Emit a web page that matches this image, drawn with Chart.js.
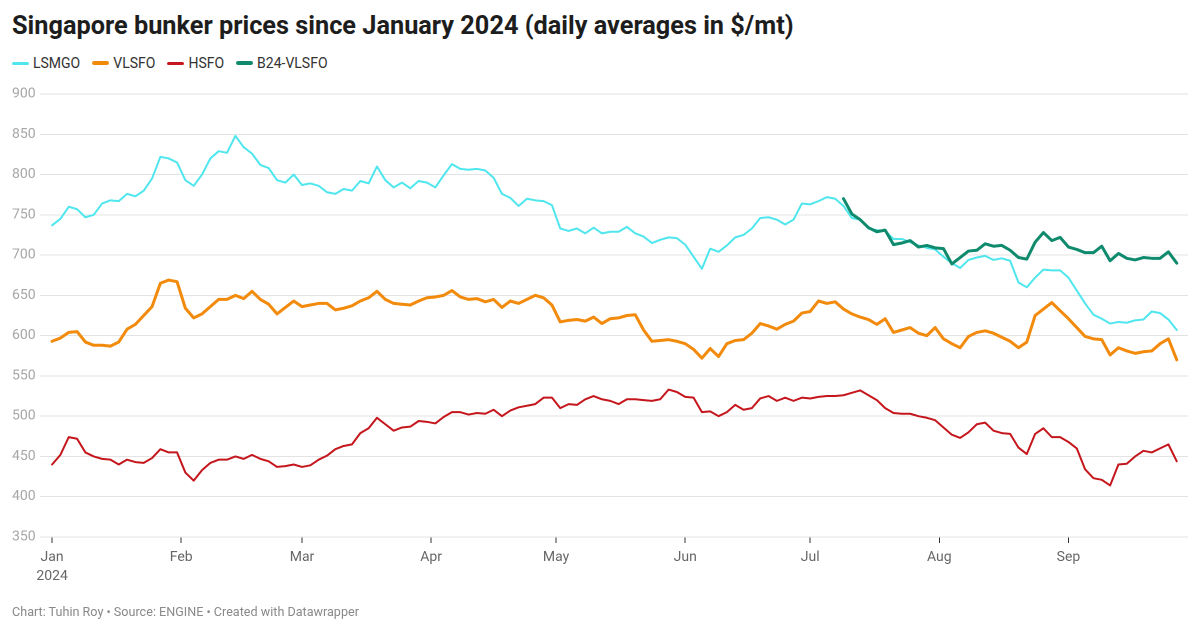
<!DOCTYPE html>
<html>
<head>
<meta charset="utf-8">
<script src="https://cdn.jsdelivr.net/npm/chart.js@4/dist/chart.umd.min.js"></script>
<style>
  html, body { margin: 0; padding: 0; background: #fff; }
  body { width: 1200px; height: 632px; position: relative; overflow: hidden; font-family: Roboto, "Noto Sans", sans-serif; }
  #title { position: absolute; left: 12px; top: 11px; font-size: 25.3px; font-weight: 700; color: #1d1d1d; white-space: nowrap; }
  #legend { position: absolute; left: 12px; top: 55px; font-size: 14px; color: #333; white-space: nowrap; display: flex; align-items: center; }
  .item { display: flex; align-items: center; margin-right: 12px; }
  .mark { width: 17px; border-radius: 2px; margin-right: 4px; }
  #footer { position: absolute; left: 12px; top: 604px; font-size: 12.6px; color: #8a8a8a; white-space: nowrap; }
  #c { position: absolute; left: 0; top: 0; }
</style>
</head>
<body>
<div id="title">Singapore bunker prices since January 2024 (daily averages in $/mt)</div>
<div id="legend"></div>
<canvas id="c" width="1200" height="632"></canvas>
<div id="footer">Chart: Tuhin Roy • Source: ENGINE • Created with Datawrapper</div>
<script>
// ---- Data (every second day) ----
const dates = [
 '2024-01-01','2024-01-03','2024-01-05','2024-01-07','2024-01-09','2024-01-11','2024-01-13','2024-01-15','2024-01-17','2024-01-19','2024-01-21','2024-01-23','2024-01-25','2024-01-27','2024-01-29','2024-01-31',
 '2024-02-02','2024-02-04','2024-02-06','2024-02-08','2024-02-10','2024-02-12','2024-02-14','2024-02-16','2024-02-18','2024-02-20','2024-02-22','2024-02-24','2024-02-26','2024-02-28',
 '2024-03-01','2024-03-03','2024-03-05','2024-03-07','2024-03-09','2024-03-11','2024-03-13','2024-03-15','2024-03-17','2024-03-19','2024-03-21','2024-03-23','2024-03-25','2024-03-27','2024-03-29','2024-03-31',
 '2024-04-02','2024-04-04','2024-04-06','2024-04-08','2024-04-10','2024-04-12','2024-04-14','2024-04-16','2024-04-18','2024-04-20','2024-04-22','2024-04-24','2024-04-26','2024-04-28','2024-04-30',
 '2024-05-02','2024-05-04','2024-05-06','2024-05-08','2024-05-10','2024-05-12','2024-05-14','2024-05-16','2024-05-18','2024-05-20','2024-05-22','2024-05-24','2024-05-26','2024-05-28','2024-05-30',
 '2024-06-01','2024-06-03','2024-06-05','2024-06-07','2024-06-09','2024-06-11','2024-06-13','2024-06-15','2024-06-17','2024-06-19','2024-06-21','2024-06-23','2024-06-25','2024-06-27','2024-06-29',
 '2024-07-01','2024-07-03','2024-07-05','2024-07-07','2024-07-09','2024-07-11','2024-07-13','2024-07-15','2024-07-17','2024-07-19','2024-07-21','2024-07-23','2024-07-25','2024-07-27','2024-07-29','2024-07-31',
 '2024-08-02','2024-08-04','2024-08-06','2024-08-08','2024-08-10','2024-08-12','2024-08-14','2024-08-16','2024-08-18','2024-08-20','2024-08-22','2024-08-24','2024-08-26','2024-08-28','2024-08-30',
 '2024-09-01','2024-09-03','2024-09-05','2024-09-07','2024-09-09','2024-09-11','2024-09-13','2024-09-15','2024-09-17','2024-09-19','2024-09-21','2024-09-23','2024-09-25','2024-09-27'
];

const lsmgo = [
 737,745,760,757,747,750,764,768,767,776,773,780,795,822,820,815,
 793,786,800,820,829,827,848,834,826,812,808,793,790,800,
 787,789,786,778,776,782,780,792,789,810,793,784,790,783,792,790,
 784,799,813,807,806,807,805,796,776,771,761,770,768,767,762,
 733,730,733,727,734,727,729,729,735,727,723,715,719,722,721,
 713,698,683,708,704,712,722,725,733,746,747,744,738,744,764,
 763,767,772,770,761,746,744,733,731,730,720,720,716,712,709,707,
 698,690,684,694,697,699,694,696,693,666,660,672,682,681,681,
 672,656,640,626,621,615,617,616,619,620,630,628,620,607
];

const vlsfo = [
 593,597,604,605,592,588,588,587,592,608,614,625,636,665,669,667,
 634,622,627,636,645,645,650,646,655,645,639,627,635,643,
 636,638,640,640,632,634,637,643,647,655,645,640,639,638,643,647,
 648,650,656,648,645,646,642,645,635,643,640,645,650,647,638,
 617,619,620,618,623,615,621,622,625,626,607,593,594,595,593,
 590,583,572,584,574,590,594,595,603,615,612,608,614,618,628,
 630,643,640,642,633,627,623,620,614,621,604,607,610,603,600,610,
 596,590,585,599,604,606,603,598,593,585,592,625,633,641,631,
 621,610,599,596,595,576,585,581,578,580,581,590,596,570
];

const hsfo = [
 440,452,474,472,455,450,447,446,440,446,443,442,448,459,455,455,
 430,420,433,442,446,446,450,447,452,447,444,437,438,440,
 437,439,446,451,459,463,465,479,485,498,490,482,486,487,494,493,
 491,499,505,505,502,504,503,508,500,507,511,513,515,523,523,
 510,515,514,521,525,521,519,515,521,521,520,519,521,533,530,
 524,523,505,506,500,505,514,508,510,522,525,519,523,519,523,
 522,524,525,525,526,529,532,526,520,510,504,503,503,500,498,495,
 486,477,473,480,490,492,482,479,478,461,453,478,485,474,474,
 468,460,434,423,421,414,440,441,450,457,455,460,465,444
];

// B24-VLSFO only starts in July
const b24Dates = dates.slice(dates.indexOf('2024-07-09'));
const b24vlsfo = [
 770,751,744,734,729,731,713,715,718,710,712,709,
 708,689,697,705,706,714,711,712,706,697,695,716,728,718,722,
 710,707,703,703,711,693,702,696,694,697,696,696,704,690
];

const seriesNames = ['LSMGO', 'VLSFO', 'HSFO', 'B24-VLSFO'];
const seriesColors = ['#4fe6ee', '#f28a0c', '#c4161c', '#0f8a6d'];
const seriesWidths = [2, 3, 2, 3];

const monthTicks = ['2024-01-01','2024-02-01','2024-03-01','2024-04-01','2024-05-01','2024-06-01','2024-07-01','2024-08-01','2024-09-01'];
const monthLabels = [['Jan','2024'],'Feb','Mar','Apr','May','Jun','Jul','Aug','Sep'];
const yTicks = [350,400,450,500,550,600,650,700,750,800,850,900];

// ---- Helpers ----
const DAY = 86400000;
const origin = Date.UTC(2024, 0, 1);
function dayOf(s) {
  const [y, m, d] = s.split('-').map(Number);
  return (Date.UTC(y, m - 1, d) - origin) / DAY;
}
function pts(ds, vals) { return vals.map((v, i) => ({ x: dayOf(ds[i]), y: v })); }

// ---- Legend ----
const lg = document.getElementById('legend');
seriesNames.forEach((n, i) => {
  const it = document.createElement('div'); it.className = 'item';
  const mk = document.createElement('div'); mk.className = 'mark';
  mk.style.height = (seriesWidths[i] + 1) + 'px'; mk.style.background = seriesColors[i];
  const tx = document.createElement('span'); tx.textContent = n;
  it.appendChild(mk); it.appendChild(tx); lg.appendChild(it);
});

const allValues = [lsmgo, vlsfo, hsfo, b24vlsfo];
const allDates = [dates, dates, dates, b24Dates];

new Chart(document.getElementById('c'), {
  type: 'line',
  data: {
    datasets: seriesNames.map((n, i) => ({
      label: n,
      data: pts(allDates[i], allValues[i]),
      borderColor: seriesColors[i],
      borderWidth: seriesWidths[i],
      pointRadius: 0,
      tension: 0,
      borderJoinStyle: 'round',
      borderCapStyle: 'round',
      fill: false,
      order: i === 3 ? -1 : i
    }))
  },
  options: {
    responsive: false,
    animation: false,
    devicePixelRatio: 2,
    layout: { padding: { top: 94, left: 12, right: 12, bottom: 0 } },
    plugins: { legend: { display: false }, tooltip: { enabled: false }, title: { display: false } },
    scales: {
      x: {
        type: 'linear',
        min: dayOf('2024-01-01') - 2.9,
        max: dayOf('2024-09-27') + 2.7,
        afterBuildTicks: (s) => { s.ticks = monthTicks.map(d => ({ value: dayOf(d) })); },
        afterFit: (s) => { s.height = 95; },
        ticks: {
          autoSkip: false, maxRotation: 0, padding: 5,
          color: '#666', font: { family: 'Roboto', size: 14, lineHeight: 1.35 },
          callback: (v) => { const k = monthTicks.findIndex(d => dayOf(d) === v); return k >= 0 ? monthLabels[k] : ''; }
        },
        grid: { drawOnChartArea: false, drawTicks: true, tickLength: 6, color: '#333', lineWidth: 1 },
        border: { display: false }
      },
      y: {
        min: 350, max: 900,
        afterBuildTicks: (s) => { s.ticks = yTicks.map(v => ({ value: v })); },
        afterFit: (s) => { s.width = 28; },
        ticks: { crossAlign: 'far', padding: 0, color: '#a6a6a6', font: { family: 'Roboto', size: 14 } },
        grid: { color: '#e3e3e3', lineWidth: 1, drawTicks: false },
        border: { display: false }
      }
    }
  }
});
</script>
</body>
</html>
